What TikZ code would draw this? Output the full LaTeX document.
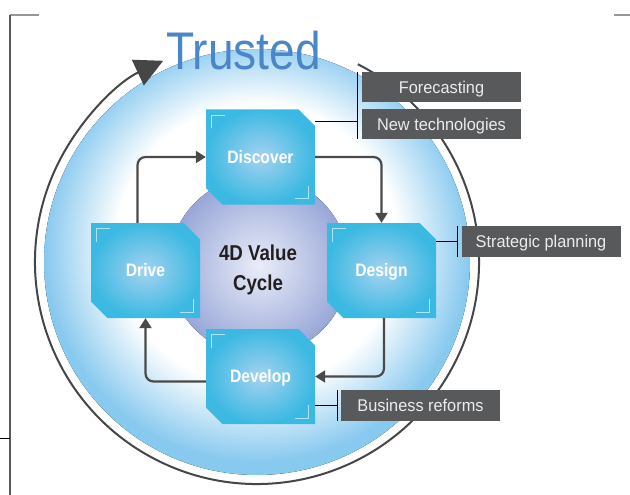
\documentclass[tikz,border=0pt]{standalone}
\usepackage{fontspec}
\usetikzlibrary{shapes.misc,arrows.meta}
\newfontfamily\cf[FakeStretch=0.87]{Liberation Sans}
\newfontfamily\lf[FakeStretch=0.96]{Liberation Sans}
\definecolor{ringc}{RGB}{70,70,70}
\definecolor{flowc}{RGB}{74,74,74}
\definecolor{discblue}{RGB}{136,201,239}
\definecolor{purc}{RGB}{234,237,248}
\definecolor{pure}{RGB}{152,167,216}
\definecolor{boxc}{RGB}{165,210,240}
\definecolor{boxe}{RGB}{60,185,226}
\definecolor{markc}{RGB}{175,228,246}
\definecolor{labbg}{RGB}{88,89,91}
\definecolor{labtx}{RGB}{236,236,236}
\definecolor{titlec}{RGB}{75,135,200}
\definecolor{framec}{RGB}{150,150,150}
\definecolor{coretx}{RGB}{35,31,32}
\pgfdeclareradialshading{discshade}{\pgfpoint{0bp}{3bp}}{color(0bp)=(white); color(16.5bp)=(white); color(25bp)=(discblue); color(50bp)=(discblue)}
\pgfdeclareradialshading{purshade}{\pgfpoint{0bp}{0bp}}{color(0bp)=(purc); color(25bp)=(pure); color(50bp)=(pure)}
\pgfdeclareradialshading{boxshade}{\pgfpoint{0bp}{0bp}}{color(0bp)=(boxc); color(25bp)=(boxe); color(50bp)=(boxe)}
\newcommand\cyclebox[3]{%
  \node[cbox] (#1) at (#2) {#3};
  \draw[cmark] ([shift={(6,19)}]#1.north west) -- ([shift={(6,6)}]#1.north west) -- ([shift={(19,6)}]#1.north west);
  \draw[cmark] ([shift={(-7,-19)}]#1.south east) -- ([shift={(-7,-6)}]#1.south east) -- ([shift={(-20,-6)}]#1.south east);
}
\begin{document}
\begin{tikzpicture}[x=1pt,y=-1pt,
  cbox/.style={chamfered rectangle, chamfered rectangle xsep=11pt, chamfered rectangle ysep=10pt,
    chamfered rectangle corners={north east,south west}, shading=boxshade, draw=none,
    minimum width=109pt, minimum height=95pt, inner sep=0pt, text=white,
    font=\cf\bfseries\fontsize{18}{18}\selectfont, text height=12.9pt, text depth=0pt},
  cmark/.style={draw=markc, line width=1pt},
  flow/.style={draw=flowc, line width=2.2pt, rounded corners=8pt, -{Triangle[length=10pt,width=12pt]}},
  ring/.style={draw=ringc, line width=2pt, -{Triangle[length=28pt,width=28pt]}},
  lab/.style={fill=labbg, text=labtx, inner sep=0pt, minimum width=159pt, minimum height=30.5pt,
    font=\lf\fontsize{17}{17}\selectfont, text height=12.2pt, text depth=0pt},
  thinline/.style={draw=black, line width=0.9pt}
]
\useasboundingbox (0,0) rectangle (630,495);
% frame marks
\draw[framec, line width=1.5pt] (10,15) -- (39,15);
\draw[black!65, line width=1.2pt] (10,15) -- (10,495);
\draw[black, line width=0.8pt] (0,438) -- (10,438);
\draw[framec, line width=2pt] (614,15) -- (630,15);
% disc
\fill[shading=discshade] (257,262) circle[radius=213];
\draw[ring] (257,262) ++(-63:222) arc[start angle=-63, end angle=245, radius=222];
\node[anchor=base west, inner sep=0pt, text=titlec, font=\cf\fontsize{53}{53}\selectfont] (title) at (166,70) {Trusted};
% central disc
\fill[shading=purshade] (259,266) circle[radius=90];
\node[align=center, text=coretx, font=\cf\bfseries\fontsize{21.5}{30}\selectfont] (core) at (258,270) {4D Value\\Cycle};
% boxes
\cyclebox{discover}{260.5,157}{Discover}
\cyclebox{design}{381.5,270.5}{Design}
\cyclebox{drive}{145.5,270.5}{Drive}
\cyclebox{develop}{260.5,376.5}{Develop}
% flow arrows
\draw[flow] ([shift={(-8,0)}]drive.north) |- (discover.west);
\draw[flow] (discover.east) -| (design.north);
\draw[flow] ([shift={(2.5,0)}]design.south) |- (develop.east);
\draw[flow] ([shift={(0,5)}]develop.west) -| (drive.south);
% callouts
\node[lab] (fc) at (441.5,87) {Forecasting};
\node[lab] (nt) at (441.5,124) {New technologies};
\node[lab] (sp) at (541,241.5) {Strategic planning};
\node[lab] (br) at (420.5,405.5) {Business reforms};
\draw[thinline] ([shift={(-4,0)}]fc.north west) -- ([shift={(-4,0)}]nt.south west);
\coordinate (b1) at (358,121);
\draw[thinline] (b1) -- (b1 -| discover.east);
\draw[thinline] ([shift={(-4,0)}]sp.north west) -- ([shift={(-4,0)}]sp.south west);
\coordinate (b2) at ([shift={(-4,0)}]sp.west);
\draw[thinline] (b2) -- (b2 -| design.east);
\draw[thinline] ([shift={(-3,0)}]br.north west) -- ([shift={(-3,0)}]br.south west);
\coordinate (b3) at ([shift={(-3,0)}]br.west);
\draw[thinline] (b3) -- (b3 -| develop.east);
\end{tikzpicture}
\end{document}
